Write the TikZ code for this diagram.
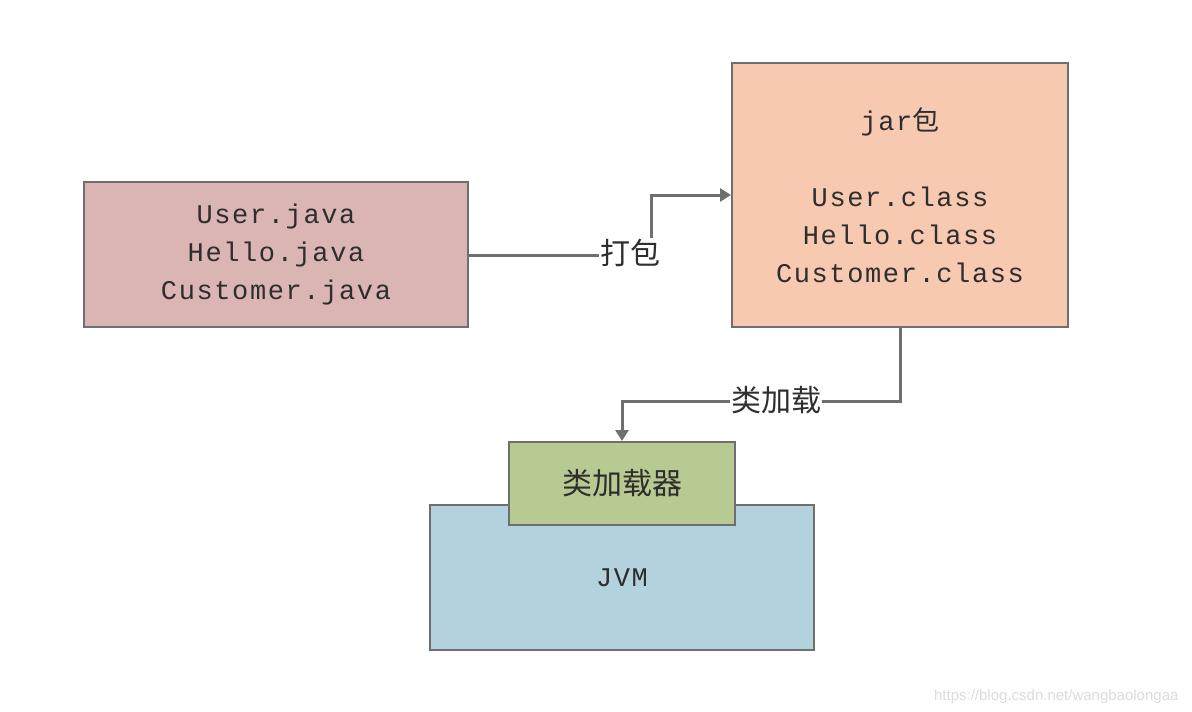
\documentclass[tikz,border=0pt]{standalone}
\usepackage{fontspec}
\setmainfont{Liberation Serif}
\newfontfamily\codefont{Liberation Mono}[LetterSpace=6]
\newfontfamily\cjk{Noto Sans CJK SC}
\newfontfamily\wmfont{Liberation Sans}
\usetikzlibrary{arrows.meta}
\definecolor{bordergray}{HTML}{6F6F6F}
\definecolor{javafill}{HTML}{DBB4B4}
\definecolor{jarfill}{HTML}{F8C9B1}
\definecolor{loadfill}{HTML}{B6CA91}
\definecolor{jvmfill}{HTML}{B3D2DE}
\definecolor{txt}{HTML}{2E2E2E}
\definecolor{wm}{HTML}{DCDCDC}
\tikzset{
  box/.style={draw=bordergray, line width=2pt, inner sep=0pt, text=txt,
    align=center, font=\fontsize{27}{38}\selectfont\codefont},
  conn/.style={draw=bordergray, line width=3pt},
  arr/.style={conn, -{Triangle[length=11pt,width=13pt]}},
  lab/.style={fill=white, inner sep=1pt, text=txt, font=\fontsize{30}{34}\selectfont\cjk},
}
\begin{document}
\begin{tikzpicture}[x=1pt,y=-1pt]
\useasboundingbox (0,0) rectangle (1192,712);
\fill[white] (0,0) rectangle (1192,712);
\node[box, fill=javafill, minimum width=384pt, minimum height=145pt] (java) at (276,254.5)
  {User.java\\Hello.java\\Customer.java};
\node[box, fill=jarfill, minimum width=336pt, minimum height=264pt] (jar) at (900,195)
  {jar{\cjk 包}\\[38pt]User.class\\Hello.class\\Customer.class};
\node[box, fill=jvmfill, minimum width=384pt, minimum height=145pt] (jvm) at (622,577.5)
  {JVM};
\node[box, fill=loadfill, minimum width=226pt, minimum height=83pt,
  font=\fontsize{30}{34}\selectfont\cjk] (loader) at (622,483.5) {类加载器};
\coordinate (k1) at (651,255);
\coordinate (k2) at (776,401);
\draw[arr] (java.east |- k1) -- (k1) |- (jar.west);
\node[lab] (l1) at (630,253) {打包};
\draw[arr] (jar.south) |- (k2) -| (loader.north);
\node[lab] (l2) at (776,400) {类加载};
\node[anchor=base east, text=wm, font=\fontsize{15}{18}\selectfont\wmfont] (wmk) at (1182,700)
  {https://blog.csdn.net/wangbaolongaa};
\end{tikzpicture}
\end{document}
